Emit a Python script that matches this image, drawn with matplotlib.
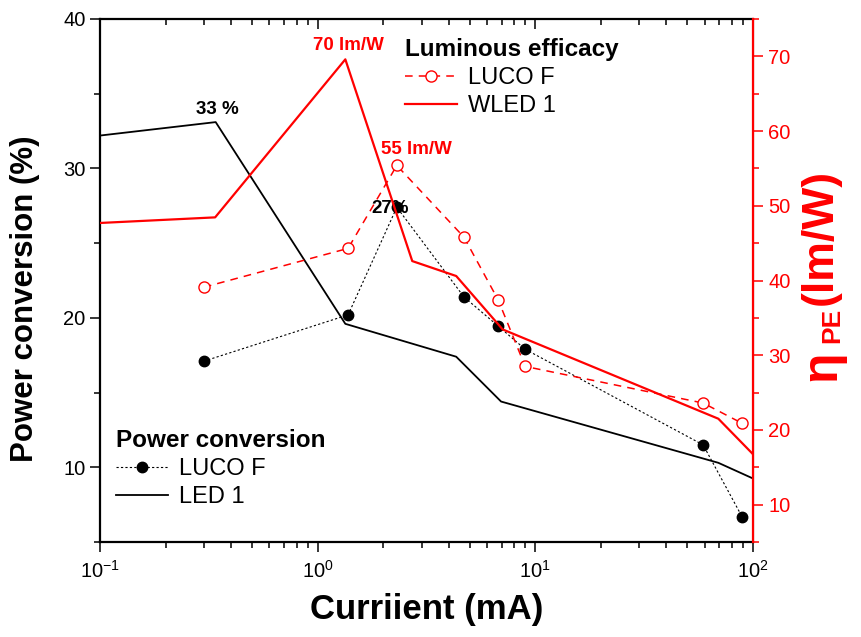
import matplotlib
matplotlib.use("Agg")
import matplotlib.pyplot as plt
from matplotlib.ticker import LogLocator, MultipleLocator, NullFormatter
from matplotlib.lines import Line2D

plt.rcParams['font.family'] = ['Liberation Sans', 'DejaVu Sans']
plt.rcParams['mathtext.fontset'] = 'custom'
plt.rcParams['mathtext.rm'] = 'Liberation Sans'
plt.rcParams['mathtext.bf'] = 'Liberation Sans:bold'
plt.rcParams['mathtext.it'] = 'Liberation Sans:italic'
plt.rcParams['axes.unicode_minus'] = False

# Power conversion (%) - left axis
led1_current = [0.1, 0.34, 1.34, 4.33, 6.96, 69.3, 100]
led1_pc = [32.2, 33.1, 19.6, 17.4, 14.4, 10.3, 9.25]

luco_current = [0.30, 1.38, 2.31, 4.70, 6.75, 8.98, 59.0, 89.0]
luco_pc = [17.1, 20.2, 27.4, 21.4, 19.45, 17.9, 11.5, 6.7]

# Luminous efficacy (lm/W) - right axis
wled1_current = [0.1, 0.338, 1.34, 2.72, 4.33, 7.08, 69.3, 100]
wled1_eff = [47.7, 48.45, 69.6, 42.6, 40.6, 33.45, 21.5, 16.75]

luco_eff = [39.1, 44.3, 55.4, 45.8, 37.4, 28.5, 23.6, 20.9]

RED = '#ff0000'
W, H = 862, 637

fig = plt.figure(figsize=(W / 100, H / 100), dpi=100)
ax = fig.add_axes([100 / W, 1 - 542 / H, 653 / W, 523 / H])
ax2 = ax.twinx()

# left-axis series
ax.plot(led1_current, led1_pc, color='black', lw=1.3, zorder=3)
ax.plot(luco_current, luco_pc, color='black', lw=0.8, ls=(0, (2, 2)),
        marker='o', ms=7.5, mfc='black', mec='black', zorder=4)

# right-axis series
ax2.plot(wled1_current, wled1_eff, color=RED, lw=1.6, zorder=3)
ax2.plot(luco_current, luco_eff, color=RED, lw=1.1, ls=(0, (5, 4)),
         marker='o', ms=8, mfc='white', mec=RED, mew=1.0, zorder=4)

ax.set_xscale('log')
ax.set_xlim(0.1, 100)
ax.set_ylim(5, 40)
ax2.set_ylim(5, 75)

ax.xaxis.set_major_locator(LogLocator(base=10, numticks=10))
ax.xaxis.set_minor_locator(LogLocator(base=10, subs=range(2, 10), numticks=20))
ax.xaxis.set_minor_formatter(NullFormatter())
ax.yaxis.set_major_locator(MultipleLocator(10))
ax.yaxis.set_minor_locator(MultipleLocator(5))
ax2.yaxis.set_major_locator(MultipleLocator(10))
ax2.yaxis.set_minor_locator(MultipleLocator(5))

ax.tick_params(axis='both', which='major', labelsize=14.5, width=1.1, length=7, direction='out')
ax.tick_params(axis='both', which='minor', width=1.1, length=4, direction='out')
ax.tick_params(axis='x', which='both', top=True)
ax.tick_params(axis='x', which='major', pad=6)
ax2.tick_params(axis='y', which='major', labelsize=14.5, width=1.1, length=7,
                colors=RED, direction='out', pad=4)
ax2.tick_params(axis='y', which='minor', width=1.1, length=4, colors=RED, direction='out')

# top ticks point inward
for t in ax.xaxis.get_major_ticks():
    t.tick2line.set_marker(3)
    t.tick2line.set_markersize(7)
for t in ax.xaxis.get_minor_ticks():
    t.tick2line.set_marker(3)
    t.tick2line.set_markersize(4)

for s in ['left', 'bottom', 'top']:
    ax.spines[s].set_linewidth(1.6)
    ax.spines[s].set_color('black')
ax2.spines['right'].set_color(RED)
ax2.spines['right'].set_linewidth(1.6)
for s in ['left', 'bottom', 'top']:
    ax2.spines[s].set_visible(False)

ax.set_xlabel('Curriient (mA)', fontsize=25, fontweight='bold', labelpad=8)
ax.set_ylabel('Power conversion (%)', fontsize=22.5, fontweight='bold')
ax.yaxis.set_label_coords(-0.092, 0.466)

# right-axis title built from three rotated pieces: η, subscript PE, (lm/W)
def px(x, y):
    return (x / W, 1 - y / H)

fig.text(*px(822, 366), 'η', rotation=90, ha='center', va='center',
         fontsize=36, fontweight='bold', color=RED)
fig.text(*px(832, 325), 'PE', rotation=90, ha='center', va='center',
         fontsize=19, fontweight='bold', color=RED)
fig.text(*px(820, 237), '(lm/W)', rotation=90, ha='center', va='center',
         fontsize=32, fontweight='bold', color=RED)

# value labels
ax.annotate(f'{led1_pc[1]:.0f} %', (led1_current[1], led1_pc[1]), xytext=(1, 3),
            textcoords='offset points', ha='center', va='bottom',
            fontsize=13.5, fontweight='bold', color='black')
ax.annotate(f'{luco_pc[2]:.0f}%', (luco_current[2], luco_pc[2]), xytext=(-5, -1),
            textcoords='offset points', ha='center', va='center',
            fontsize=13.5, fontweight='bold', color='black', zorder=6)
ax2.annotate(f'{wled1_eff[2]:.0f} lm/W', (wled1_current[2], wled1_eff[2]), xytext=(2, 4),
             textcoords='offset points', ha='center', va='bottom',
             fontsize=13.5, fontweight='bold', color=RED)
ax2.annotate(f'{luco_eff[2]:.0f} lm/W', (luco_current[2], luco_eff[2]), xytext=(14, 5),
             textcoords='offset points', ha='center', va='bottom',
             fontsize=13.5, fontweight='bold', color=RED)

# legends
eff_handles = [
    Line2D([], [], color=RED, lw=1.1, ls=(0, (5, 4)), marker='o', ms=8,
           mfc='white', mec=RED, mew=1.0),
    Line2D([], [], color=RED, lw=1.6),
]
fig.legend(eff_handles, ['LUCO F', 'WLED 1'], title='Luminous efficacy',
           loc='upper left', bbox_to_anchor=px(405, 38),
           frameon=False, fontsize=17, title_fontproperties={'weight': 'bold', 'size': 17.5},
           alignment='left', handlelength=2.2, handletextpad=0.45,
           labelspacing=0.25, borderpad=0, borderaxespad=0)

pc_handles = [
    Line2D([], [], color='black', lw=0.8, ls=(0, (2, 2)), marker='o', ms=7.5,
           mfc='black', mec='black'),
    Line2D([], [], color='black', lw=1.3),
]
fig.legend(pc_handles, ['LUCO F', 'LED 1'], title='Power conversion',
           loc='upper left', bbox_to_anchor=px(116, 429),
           frameon=False, fontsize=17, title_fontproperties={'weight': 'bold', 'size': 17.5},
           alignment='left', handlelength=2.2, handletextpad=0.45,
           labelspacing=0.25, borderpad=0, borderaxespad=0)

fig.savefig('out.png', dpi=100)
